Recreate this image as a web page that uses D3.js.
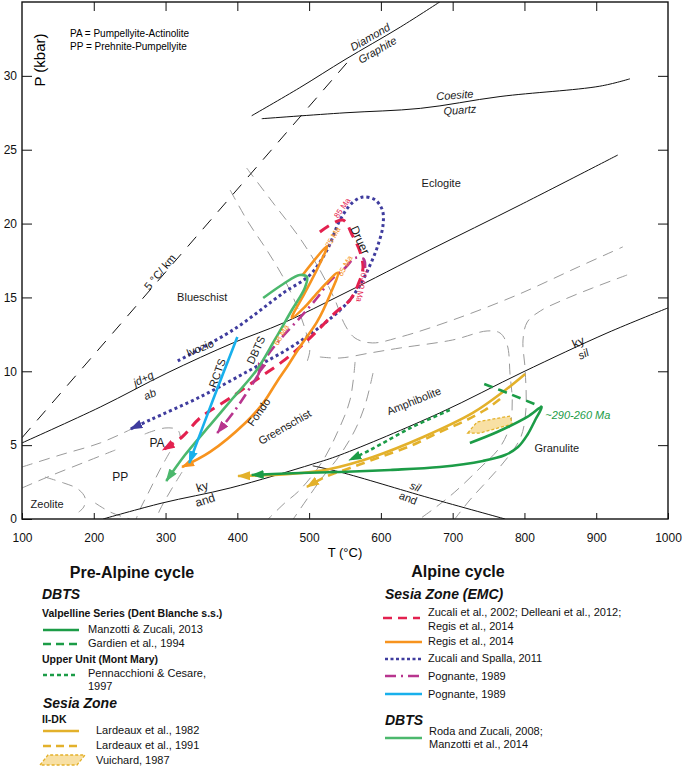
<!DOCTYPE html>
<html>
<head>
<meta charset="utf-8">
<script src="https://cdn.jsdelivr.net/npm/d3@7"></script>
<style>
body { margin: 0; background: #fff; }
text { font-family: "Liberation Sans", Arial, sans-serif; }
</style>
</head>
<body>
<div id="chart"></div>
<script>
// axes
const tempTicks = [100, 200, 300, 400, 500, 600, 700, 800, 900, 1000];
const presTicks = [0, 5, 10, 15, 20, 25, 30];

// reaction lines [T (°C), P (kbar)]
const diamondGraphite = [[420,27.3],[487,29.2],[550,31.1],[627,33.3],[685,35.1]];
const coesiteQuartz = [[434,27.1],[550,27.5],[655,27.8],[766,28.6],[905,29.3],[947,29.8]];
const jdAb = [[100,5.15],[209,7.58],[302,9.88],[394,11.92],[464,13.27],[550,15.3],[668,18.21],[794,21.26],[930,24.64]];
const kyLine = [[213,0],[295,1.08],[390,2.1],[505,3.72],[543,4.33],[682,7.18],[798,9.95],[915,12.59],[1000,14.29]];
const silAnd = [[505,3.6],[543,3.18],[668,1.42],[773,0]];
const gradient5 = [[100,5.5],[553,30.9]];

// facies boundaries (grey dashed)
const facies = [
  [[413,23.76],[452,21.26],[487,19.02],[515,16.86],[536,14.83],[550,13.13],[564,12.25],[588,11.92],[627,12.32],[700,13.47],[790,15.17],[875,17.06],[937,18.42]],
  [[390,22.27],[415,20.11],[441,18.21],[466,16.18],[484,14.29],[496,12.59],[501,11.44],[497,10.63]],
  [[515,10.97],[543,10.9],[585,11.24],[627,11.58],[700,12.12],[748,12.73],[766,12.59],[776,11.78],[780,9.75],[783,8.06],[780,6.36],[766,4.87],[738,3.45],[703,1.83],[675,0.74],[654,0]],
  [[943,16.52],[895,15.64],[854,14.83],[822,14.08],[804,13.34],[798,12.12],[801,10.09],[802,7.38],[795,5.55],[776,4.13],[752,2.78],[724,1.29],[703,0]],
  [[564,10.63],[557,8.06],[539,5.82],[518,3.86],[487,1.96],[466,1.08],[443,0]],
  [[589,9.88],[578,7.72],[564,6.03],[543,4.33],[518,2.78],[501,1.62],[478,0]],
  [[100,3.52],[153,4.33],[209,5.15],[253,6.1]],
  [[271,5.75],[299,6.16],[317,6.03],[321,5.42]],
  [[100,2.1],[139,2.91],[188,3.86],[230,4.67]],
  [[132,2.84],[158,2.44],[178,2.03],[188,1.42],[186,0.81],[179,0.47]],
  [[202,1.08],[223,0.47],[250,0]],
  [[306,4.54],[292,3.32],[278,1.96],[264,0.61],[259,0]],
  [[323,3.18],[306,1.83],[292,0.61],[287,0]]
];

// Alpine P-T paths
const zucaliSpalla = [[317,10.7],[394,12.8],[464,15.3],[501,16.52],[525,18.21],[543,20.24],[560,21.4],[575,21.8],[592,21.6],[602,20.92],[603,19.91],[596,18.55],[585,17.2],[571,15.84],[553,14.62],[515,13.0],[473,11.58],[418,10.09],[348,8.26],[278,6.7],[251,6.09]];
const zucali2002 = [[515,19.43],[547,20.24],[560,19.23],[571,18.08],[575,16.99],[568,15.84],[557,14.83],[536,13.95],[501,12.25],[466,10.77],[432,9.61],[390,8.19],[348,6.84],[323,5.55],[296,4.67]];
const pognanteDashDot = [[578,16.99],[576,17.6],[564,17.67],[550,16.99],[529,16.11],[511,14.96],[487,13.61],[459,12.12],[438,10.77],[429,9.75]];
const pognanteDashDot2 = [[429,9.75],[413,8.53],[397,7.38],[372,5.82]];
const regis2014 = [[491,16.52],[525,18.48],[512,16.99],[494,15.3],[476,13.61],[494,14.35],[515,15.5],[540,16.66],[529,15.17],[511,13.34],[487,11.65],[471,10.43],[455,9.28],[436,7.85],[411,6.5],[362,4.54],[323,3.52]];
const pognanteRCTS = [[400,12.32],[366,8.06],[333,3.79]];
const rodaZucali = [[436,14.96],[464,15.91],[487,16.52],[497,16.38],[494,15.64],[476,14.15],[452,12.12],[427,10.09],[394,8.19],[362,6.36],[327,4.33],[301,2.57]];

// pre-Alpine P-T paths
const manzottiZucali = [[724,5.15],[762,5.89],[804,6.91],[824,7.58],[815,6.7],[804,5.69],[791,4.87],[773,4.33],[742,3.93],[682,3.52],[613,3.32],[543,3.18],[487,3.11],[420,2.98]];
const gardien = [[744,9.14],[780,8.46],[824,7.58]];
const pennacchioni = [[696,7.38],[641,6.16],[585,4.67],[556,3.99]];
const lardeaux1982 = [[801,9.82],[770,8.6],[728,7.18],[659,5.55],[589,4.2],[529,3.39],[473,3.05],[401,2.91]];
const lardeaux1991 = [[766,8.12],[745,7.38],[717,6.64],[682,5.89],[641,4.94],[599,4.2],[557,3.45],[522,2.84],[497,2.17]];
const vuichard = [[721,5.82],[734,6.57],[780,6.97],[783,6.43],[738,5.82]];

const col = {
  purple: "#3f3c9e", red: "#e3214f", orange: "#f7931e", magenta: "#b8358e",
  cyan: "#18b0ec", lgreen: "#4cb86d", dgreen: "#1c9c47", yellow: "#e3b12b", beige: "#f8e0a4"
};

const svg = d3.select("#chart").append("svg").attr("width", 685).attr("height", 767);
const x = d3.scaleLinear().domain([100, 1000]).range([22, 668]);
const y = d3.scaleLinear().domain([0, 35]).range([519, 2]);

const defs = svg.append("defs");
defs.append("clipPath").attr("id", "plot").append("rect")
  .attr("x", 22).attr("y", 2).attr("width", 646).attr("height", 517);
for (const k of Object.keys(col)) {
  defs.append("marker").attr("id", "arr-" + k)
    .attr("viewBox", "0 0 13 9").attr("refX", 12).attr("refY", 4.5)
    .attr("markerWidth", 13).attr("markerHeight", 9)
    .attr("markerUnits", "userSpaceOnUse").attr("orient", "auto")
    .append("path").attr("d", "M0,0L13,4.5L0,9Z").attr("fill", col[k]);
}

const line = d3.line().x(d => x(d[0])).y(d => y(d[1])).curve(d3.curveCatmullRom.alpha(0.5));
const straight = d3.line().x(d => x(d[0])).y(d => y(d[1]));
const plot = svg.append("g").attr("clip-path", "url(#plot)");

// facies
plot.selectAll(".facies").data(facies).enter().append("path")
  .attr("d", line).attr("fill", "none").attr("stroke", "#9a9a9a")
  .attr("stroke-width", 1).attr("stroke-dasharray", "11,7");

// reactions
[diamondGraphite, coesiteQuartz, jdAb, kyLine, silAnd].forEach(d => {
  plot.append("path").attr("d", line(d)).attr("fill", "none")
    .attr("stroke", "#111").attr("stroke-width", 1);
});
plot.append("path").attr("d", straight(gradient5)).attr("fill", "none")
  .attr("stroke", "#111").attr("stroke-width", 1).attr("stroke-dasharray", "13,10");

function path(d, c, w, dash, arrow) {
  const p = plot.append("path").attr("d", line(d)).attr("fill", "none")
    .attr("stroke", col[c]).attr("stroke-width", w).attr("stroke-linecap", "butt");
  if (dash) p.attr("stroke-dasharray", dash);
  if (arrow) p.attr("marker-end", "url(#arr-" + c + ")");
  return p;
}

// pre-Alpine
const closed = d3.line().x(d => x(d[0])).y(d => y(d[1])).curve(d3.curveLinearClosed);
plot.append("path").attr("d", closed(vuichard))
  .attr("fill", col.beige).attr("stroke", col.yellow).attr("stroke-width", 1.3).attr("stroke-dasharray", "3,2");
path(lardeaux1991, "yellow", 2.6, "9,6", true);
path(lardeaux1982, "yellow", 2.6, null, true);
path(pennacchioni, "dgreen", 2.6, "4,3", true);
path(gardien, "dgreen", 2.6, "9,6", false);
path(manzottiZucali, "dgreen", 2.6, null, true);

// Alpine
path(zucaliSpalla, "purple", 3, "3,3", true);
path(zucali2002, "red", 3, "11,7", true);
path(pognanteDashDot, "magenta", 2.6, "11,5,2,5", true);
path(pognanteDashDot2, "magenta", 2.6, "11,5,2,5", true);
path(regis2014, "orange", 2.6, null, true);
path(rodaZucali, "lgreen", 2.6, null, true);
path(pognanteRCTS, "cyan", 2.6, null, true);

// labels
function label(t, T, P, rot, o) {
  o = o || {};
  svg.append("text").text(t)
    .attr("transform", `translate(${x(T)},${y(P)}) rotate(${rot || 0})`)
    .attr("text-anchor", o.anchor || "middle").attr("dy", "0.35em")
    .attr("font-size", o.size || 11).attr("fill", o.fill || "#1a1a1a")
    .attr("font-style", o.italic ? "italic" : null);
}
label("Blueschist", 351, 15.03);
label("Eclogite", 684, 22.75);
label("Diamond", 585, 32.63, -30, {italic: true});
label("Graphite", 595, 31.75, -30, {italic: true});
label("Coesite", 703, 28.7, -4, {italic: true});
label("Quartz", 710, 27.69, -4, {italic: true});
label("jd+q", 269, 9.5, -25, {italic: true});
label("ab", 278, 8.45, -25, {italic: true});
label("5 °C/ km", 292, 16.72, -50);
label("Ivozio", 348, 11.58, -22);
label("RCTS", 372, 9.88, -70);
label("DBTS", 426, 11.44, -65);
label("Fondo", 430, 7.24, -55);
label("Greenschist", 466, 6.23, -30);
label("PA", 288, 5.15, 0, {size: 12});
label("PP", 237, 2.84, 0, {size: 12});
label("Zeolite", 135, 1.02);
label("ky", 351, 2.2, -18, {size: 12});
label("and", 355, 1.29, -18, {size: 12});
label("sil", 648, 2.2, 22, {italic: true});
label("and", 638, 1.42, 22);
label("ky", 875, 11.98, -25, {size: 12});
label("sil", 882, 11.17, -25, {italic: true});
label("Amphibolite", 646, 7.99, -22);
label("Granulite", 845, 4.81);
label("~290-260 Ma", 829, 7.04, 0, {anchor: "start", italic: true, fill: col.dgreen});
label("Druer", 571, 18.89, 65, {size: 12});
label("85 Ma", 546, 21.06, -55, {size: 8, fill: col.red});
label("75 Ma", 533, 19.09, -60, {size: 8, fill: col.orange});
label("65 Ma", 550, 17.13, -60, {size: 8, fill: col.orange});
label("68 Ma", 461, 12.46, -60, {size: 8, fill: col.orange});
label("~70-60 Ma", 574, 15.98, 100, {size: 8, fill: col.red});

svg.append("text").text("PA = Pumpellyite-Actinolite").attr("x", 70).attr("y", 37).attr("font-size", 10);
svg.append("text").text("PP = Prehnite-Pumpellyite").attr("x", 70).attr("y", 50).attr("font-size", 10);

// axes
const ax = (g, a) => g.call(a).call(s => s.select(".domain").remove())
  .call(s => s.selectAll("text").attr("font-size", 12).attr("fill", "#111"))
  .call(s => s.selectAll("line").attr("stroke", "#111"));
ax(svg.append("g").attr("transform", "translate(0,519)"),
  d3.axisBottom(x).tickValues(tempTicks).tickSize(-6).tickPadding(14).tickFormat(d3.format("d")));
ax(svg.append("g").attr("transform", "translate(0,2)"),
  d3.axisTop(x).tickValues(tempTicks.slice(1, -1)).tickSize(-9).tickFormat(""));
ax(svg.append("g").attr("transform", "translate(22,0)"),
  d3.axisLeft(y).tickValues(presTicks).tickSize(-10).tickPadding(5));
ax(svg.append("g").attr("transform", "translate(668,0)"),
  d3.axisRight(y).tickValues(presTicks.slice(1)).tickSize(-10).tickFormat(""));
svg.append("rect").attr("x", 22).attr("y", 2).attr("width", 646).attr("height", 517)
  .attr("fill", "none").attr("stroke", "#111").attr("stroke-width", 1.4);

svg.append("text").text("T (°C)").attr("x", 345).attr("y", 557).attr("text-anchor", "middle").attr("font-size", 13);
svg.append("text").text("P (kbar)").attr("transform", "translate(45,60) rotate(-90)")
  .attr("text-anchor", "middle").attr("font-size", 15);

// legend
const lg = svg.append("g");
function txt(t, tx, ty, o) {
  o = o || {};
  lg.append("text").text(t).attr("x", tx).attr("y", ty).attr("font-size", o.size || 11)
    .attr("font-weight", o.bold ? "bold" : null).attr("font-style", o.italic ? "italic" : null)
    .attr("text-anchor", o.anchor || "start").attr("fill", "#111");
}
function sample(c, x0, x1, yy, dash) {
  const p = lg.append("line").attr("x1", x0).attr("x2", x1).attr("y1", yy).attr("y2", yy)
    .attr("stroke", col[c]).attr("stroke-width", 2.6);
  if (dash) p.attr("stroke-dasharray", dash);
}
const preAlpine = ["Manzotti & Zucali, 2013", "Gardien et al., 1994", "Pennacchioni & Cesare,", "1997",
  "Lardeaux et al., 1982", "Lardeaux et al., 1991", "Vuichard, 1987"];
const alpine = ["Zucali et al., 2002; Delleani et al., 2012;", "Regis et al., 2014", "Regis et al., 2014",
  "Zucali and Spalla, 2011", "Pognante, 1989", "Pognante, 1989", "Roda and Zucali, 2008;", "Manzotti et al., 2014"];

txt("Pre-Alpine cycle", 132, 578, {size: 16, bold: true, anchor: "middle"});
txt("DBTS", 42, 599, {size: 14, bold: true, italic: true});
txt("Valpelline Series (Dent Blanche s.s.)", 42, 617, {size: 10.5, bold: true});
sample("dgreen", 43, 79, 630);
txt(preAlpine[0], 88, 633);
sample("dgreen", 43, 79, 644, "8,5");
txt(preAlpine[1], 88, 647);
txt("Upper Unit (Mont Mary)", 42, 663, {size: 10.5, bold: true});
sample("dgreen", 43, 76, 675, "4,3");
txt(preAlpine[2], 88, 677);
txt(preAlpine[3], 88, 690);
txt("Sesia Zone", 43, 708, {size: 14, bold: true, italic: true});
txt("II-DK", 42, 723, {size: 10.5, bold: true});
sample("yellow", 43, 79, 731);
txt(preAlpine[4], 96, 734);
sample("yellow", 43, 79, 746, "8,5");
txt(preAlpine[5], 96, 749);
lg.append("polygon").attr("points", "40,765 48,755 85,755 77,765")
  .attr("fill", col.beige).attr("stroke", col.yellow).attr("stroke-width", 1.3).attr("stroke-dasharray", "3,2");
txt(preAlpine[6], 96, 764);

txt("Alpine cycle", 458, 577, {size: 16, bold: true, anchor: "middle"});
txt("Sesia Zone (EMC)", 385, 599, {size: 14, bold: true, italic: true});
sample("red", 383, 420, 618, "9,6");
txt(alpine[0], 428, 616);
txt(alpine[1], 428, 630);
sample("orange", 385, 422, 642);
txt(alpine[2], 428, 645);
sample("purple", 385, 422, 659, "3,2.5");
txt(alpine[3], 428, 662);
sample("magenta", 385, 422, 676, "11,5,2,5");
txt(alpine[4], 428, 680);
sample("cyan", 385, 422, 694);
txt(alpine[5], 428, 698);
txt("DBTS", 385, 725, {size: 14, bold: true, italic: true});
sample("lgreen", 385, 422, 738);
txt(alpine[6], 429, 735);
txt(alpine[7], 429, 748);
</script>
</body>
</html>
